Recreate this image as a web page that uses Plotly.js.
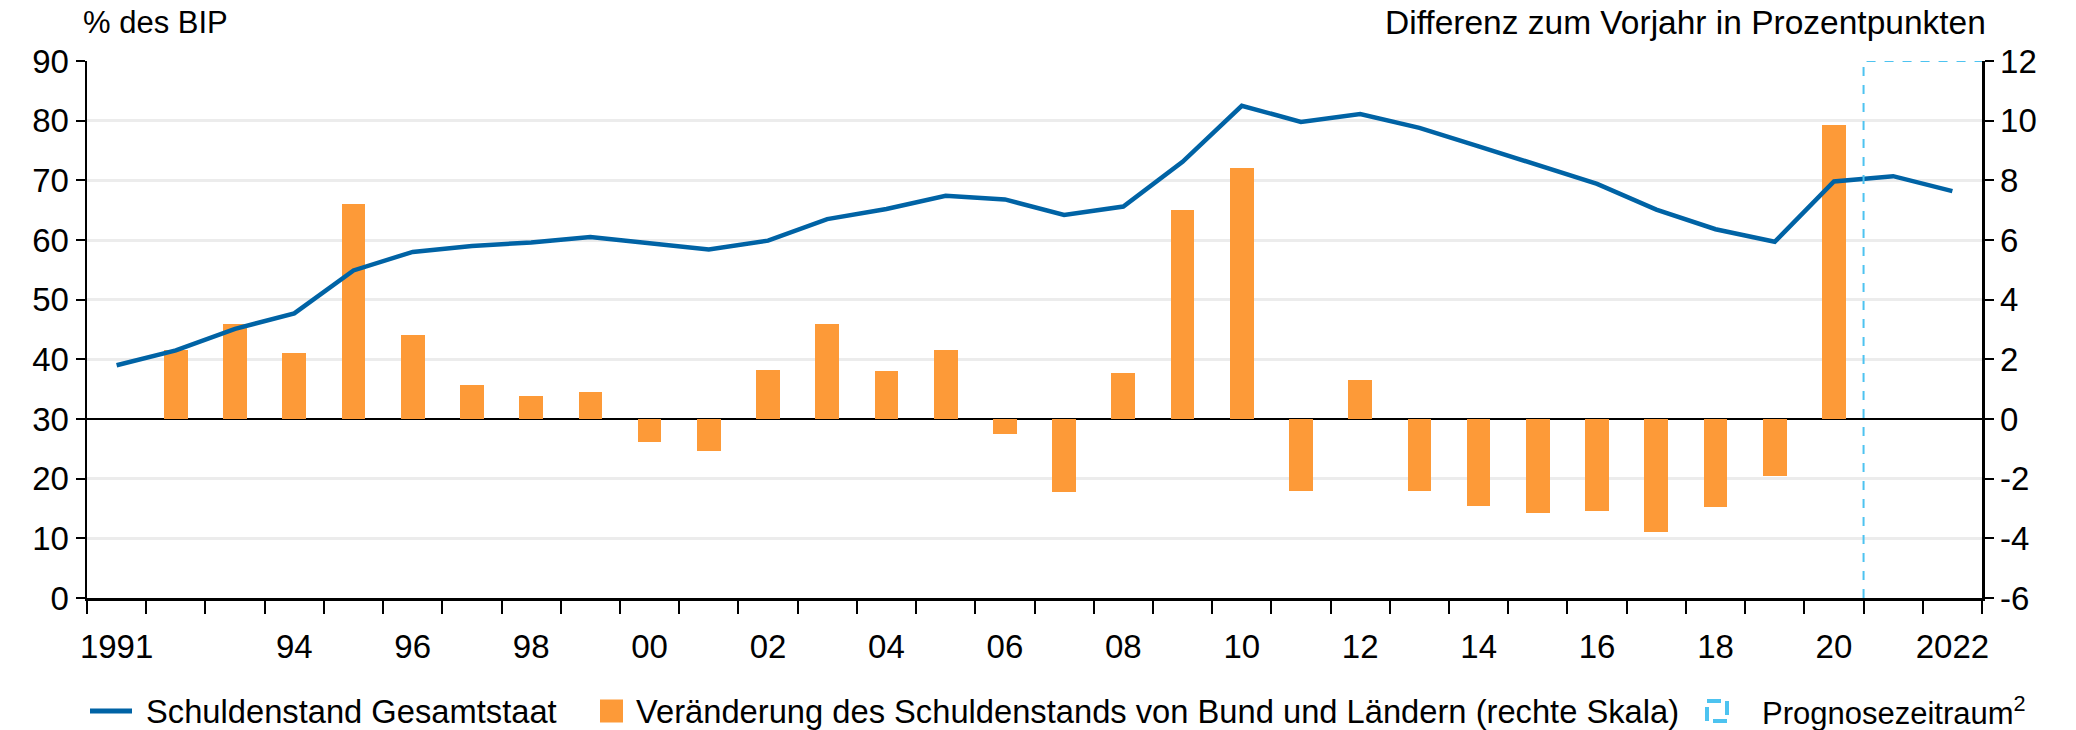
<!DOCTYPE html>
<html>
<head>
<meta charset="utf-8">
<script src="https://cdn.plot.ly/plotly-3.0.1.min.js"></script>
<style>html,body{margin:0;padding:0;background:#fff;}#chart{width:2076px;height:730px;}</style>
</head>
<body>
<div id="chart"></div>
<script>
// ---- data ----
const years = [1991,1992,1993,1994,1995,1996,1997,1998,1999,2000,2001,2002,2003,2004,2005,2006,2007,2008,2009,2010,2011,2012,2013,2014,2015,2016,2017,2018,2019,2020,2021,2022];
const debtRatio = [39.0,41.5,45.1,47.7,54.9,58.0,59.0,59.6,60.5,59.4,58.4,59.9,63.5,65.2,67.4,66.8,64.2,65.6,73.1,82.5,79.8,81.1,78.8,75.7,72.5,69.4,65.1,61.8,59.7,69.8,70.7,68.2];
const changeYears = [1992,1993,1994,1995,1996,1997,1998,1999,2000,2001,2002,2003,2004,2005,2006,2007,2008,2009,2010,2011,2012,2013,2014,2015,2016,2017,2018,2019,2020];
const changeBundLaender = [2.3,3.2,2.2,7.2,2.8,1.15,0.77,0.9,-0.77,-1.07,1.65,3.2,1.6,2.3,-0.5,-2.45,1.55,7.0,8.4,-2.4,1.3,-2.42,-2.9,-3.15,-3.07,-3.78,-2.96,-1.92,9.87];
const labelYears = [1991,1994,1996,1998,2000,2002,2004,2006,2008,2010,2012,2014,2016,2018,2020,2022];
const labelText = ["1991","94","96","98","00","02","04","06","08","10","12","14","16","18","20","2022"];
const leftTicks = [0,10,20,30,40,50,60,70,80,90];
const rightTicks = [-6,-4,-2,0,2,4,6,8,10,12];
const rightTickText = ["-6","-4","-2","0","2","4","6","8","10","12"];
const forecastStart = 2021;
const seriesNames = ["Schuldenstand Gesamtstaat","Veränderung des Schuldenstands von Bund und Ländern (rechte Skala)","Prognosezeitraum<sup>2</sup>"];

// ---- derived ----
const firstEdge = years[0] - 0.5;
const lastEdge = years[years.length-1] + 0.5;

const W = 2076, H = 730;
const M = {l: 87, r: 94, t: 61, b: 132};
const PW = W - M.l - M.r, PH = H - M.t - M.b;
const px = v => (v - M.l) / PW;      // page pixel x -> paper x
const py = v => (H - M.b - v) / PH;  // page pixel y -> paper y

const FONT = "Liberation Sans, Arial, sans-serif";
const TICKFS = 33;
const LEGFS = 32.7;
const BLUE = '#0063A5', ORANGE = '#FD9A38', CYAN = '#4DC3F0';

const traces = [
  {
    type: 'bar', name: seriesNames[1], showlegend: false,
    x: changeYears, y: changeBundLaender, xaxis: 'x', yaxis: 'y',
    width: 0.4,
    marker: {color: ORANGE, line: {width: 0}},
    hoverinfo: 'skip'
  },
  {
    type: 'scatter', mode: 'lines', name: seriesNames[0], showlegend: false,
    x: years, y: debtRatio, xaxis: 'x2', yaxis: 'y2',
    line: {color: BLUE, width: 4.5},
    hoverinfo: 'skip'
  }
];

// legend (drawn manually for exact placement)
const legY = 711;
const legendShapes = [
  {type: 'line', xref: 'paper', yref: 'paper', x0: px(90), x1: px(132), y0: py(legY), y1: py(legY),
   line: {color: BLUE, width: 5}},
  {type: 'rect', xref: 'paper', yref: 'paper', x0: px(600), x1: px(623), y0: py(legY - 11.5), y1: py(legY + 11.5),
   line: {width: 0}, fillcolor: ORANGE},
  {type: 'rect', xref: 'paper', yref: 'paper', x0: px(1707), x1: px(1727), y0: py(legY - 10), y1: py(legY + 10),
   line: {width: 4, color: CYAN, dash: '14px,6px'}, fillcolor: 'rgba(0,0,0,0)'}
];
const legendTexts = [
  {x: px(144), text: seriesNames[0], size: LEGFS},
  {x: px(634), text: seriesNames[1], size: LEGFS},
  {x: px(1760), text: seriesNames[2], size: 31}
].map(o => ({xref: 'paper', yref: 'paper', x: o.x, y: py(legY), xanchor: 'left', yanchor: 'middle',
  text: o.text, showarrow: false, font: {family: FONT, size: o.size, color: '#000'}}));

const layout = {
  width: W, height: H,
  margin: {l: M.l, r: M.r, t: M.t, b: M.b, autoexpand: false},
  paper_bgcolor: '#fff', plot_bgcolor: '#fff',
  font: {family: FONT, size: TICKFS, color: '#000'},
  showlegend: false,
  bargap: 0,
  xaxis: {
    range: [firstEdge, lastEdge], type: 'linear',
    tickmode: 'linear', tick0: firstEdge, dtick: 1,
    ticks: 'outside', ticklen: 13, tickwidth: 2, tickcolor: '#000',
    showline: true, linecolor: '#000', linewidth: 2.5,
    showgrid: false, zeroline: false, showticklabels: false,
    anchor: 'y', fixedrange: true
  },
  xaxis2: {
    range: [firstEdge, lastEdge], type: 'linear', overlaying: 'x', anchor: 'y2', side: 'bottom',
    tickmode: 'array', tickvals: labelYears, ticktext: labelText,
    ticks: '', showline: false, showgrid: false, zeroline: false,
    ticklabelstandoff: 26,
    tickfont: {family: FONT, size: TICKFS, color: '#000'}, fixedrange: true
  },
  yaxis: {
    range: [-6, 12], side: 'right', anchor: 'x',
    tickmode: 'array', tickvals: rightTicks, ticktext: rightTickText,
    ticks: 'outside', ticklen: 9, tickwidth: 2, tickcolor: '#000',
    showline: true, linecolor: '#000', linewidth: 2.5,
    showgrid: true, gridcolor: '#ECECEC', gridwidth: 3,
    zeroline: true, zerolinecolor: '#000', zerolinewidth: 2.5,
    tickfont: {family: FONT, size: TICKFS, color: '#000'}, fixedrange: true
  },
  yaxis2: {
    range: [0, 90], side: 'left', overlaying: 'y', anchor: 'x2',
    tickmode: 'array', tickvals: leftTicks,
    ticks: 'outside', ticklen: 9, tickwidth: 2, tickcolor: '#000',
    showline: true, linecolor: '#000', linewidth: 2.5,
    showgrid: false, zeroline: false,
    tickfont: {family: FONT, size: TICKFS, color: '#000'}, fixedrange: true
  },
  shapes: [
    {
      type: 'path', xref: 'x', yref: 'y',
      path: 'M ' + (forecastStart - 0.5) + ',-6 L ' + (forecastStart - 0.5) + ',12 L ' + lastEdge + ',12',
      line: {color: CYAN, width: 2, dash: 'dash'},
      fillcolor: 'rgba(0,0,0,0)', layer: 'above'
    }
  ].concat(legendShapes),
  annotations: [
    {xref: 'paper', yref: 'paper', x: -0.003, y: 1.072, xanchor: 'left', yanchor: 'middle',
     text: '% des BIP', showarrow: false, font: {family: FONT, size: 31, color: '#000'}},
    {xref: 'paper', yref: 'paper', x: 1.003, y: 1.072, xanchor: 'right', yanchor: 'middle',
     text: 'Differenz zum Vorjahr in Prozentpunkten', showarrow: false, font: {family: FONT, size: 33.5, color: '#000'}}
  ].concat(legendTexts)
};

Plotly.newPlot('chart', traces, layout, {staticPlot: true, displayModeBar: false});
</script>
</body>
</html>
